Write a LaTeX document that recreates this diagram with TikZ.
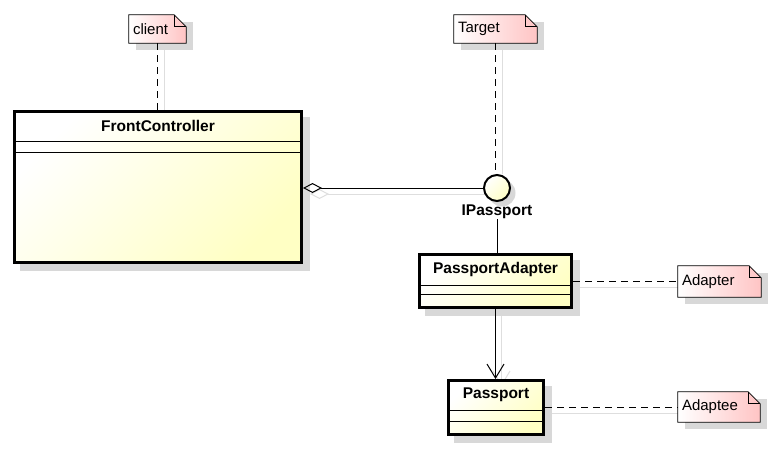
\documentclass[tikz,border=0pt]{standalone}
\usepackage{fontspec}
\setmainfont{Liberation Sans}
\usetikzlibrary{arrows.meta,backgrounds}
\definecolor{clsy}{RGB}{255,255,196}
\definecolor{notep}{RGB}{255,196,196}
\definecolor{shd}{RGB}{216,216,216}
\definecolor{shl}{RGB}{222,222,222}
\begin{document}
\begin{tikzpicture}[x=1pt,y=-1pt,
  cls/.style={draw=black,line width=3pt,top color=white,bottom color=clsy,shading angle=45,inner sep=0pt},
  clsname/.style={font=\fontsize{15.5}{18}\selectfont\bfseries,inner sep=0pt},
  note/.style={inner xsep=4pt,inner ysep=0pt,align=left,font=\fontsize{15}{18}\selectfont},
  conn/.style={line width=1pt},
  dashline/.style={line width=1pt,dash pattern=on 7pt off 5pt},
  shline/.style={shl,line width=1pt},
  comp/.style={line width=1pt}
]
\useasboundingbox (0,0) rectangle (773,448);

% classes
\node[cls,minimum width=287pt,minimum height=151pt] (fc) at (158,187) {};
\node[cls,minimum width=152pt,minimum height=53pt] (pa) at (495.5,281) {};
\node[cls,minimum width=95pt,minimum height=54pt] (pp) at (496,407.5) {};
\node[clsname] (fcname) at (158,126) {FrontController};
\node[clsname] (paname) at (495.5,269) {PassportAdapter};
\node[clsname] (ppname) at (496,395) {Passport};
\draw[comp] (fc.west |- 0,141) -- (fc.east |- 0,141);
\draw[comp] (fc.west |- 0,152) -- (fc.east |- 0,152);
\draw[comp] (pa.west |- 0,285) -- (pa.east |- 0,285);
\draw[comp] (pa.west |- 0,294) -- (pa.east |- 0,294);
\draw[comp] (pp.west |- 0,410) -- (pp.east |- 0,410);
\draw[comp] (pp.west |- 0,421) -- (pp.east |- 0,421);

% interface
\node[circle,draw=black,line width=2pt,minimum size=26pt,inner sep=0pt,
      top color=white,bottom color=clsy,shading angle=45] (ip) at (497,188) {};
\node[clsname] (iplbl) at (497,212) {IPassport};

% notes
\node[note,text width=49pt,minimum height=28pt] (client) at (157.5,29) {client};
\node[note,text width=75pt,minimum height=28pt] (target) at (495.5,29) {Target};
\node[note,text width=75pt,minimum height=31pt] (adapter) at (719.5,281.5) {Adapter};
\node[note,text width=74pt,minimum height=30pt] (adaptee) at (719,407) {Adaptee};

% connectors
\draw[dashline] (client.south) -- (client.south |- fc.north);
\draw[dashline] (target.south) -- (target.south |- ip.north);
\draw[dashline] (pa.east |- adapter.west) -- (adapter.west);
\draw[dashline] (pp.east |- adaptee.west) -- (adaptee.west);
\draw[conn,{Diamond[open,length=19pt,width=10pt]}-] (fc.east |- ip.west) -- (ip.west);
\draw[conn] (iplbl.south) -- (iplbl.south |- pa.north);
\draw[conn,-{Straight Barb[length=14pt,width=17pt]}] (pa.south) -- (pa.south |- pp.north);

\begin{scope}[on background layer]
  % box shadows
  \foreach \n in {fc,pa,pp}{
    \fill[shd] ([shift={(7,7)}]\n.south west) rectangle ([shift={(7,7)}]\n.north east);
  }
  \fill[shd] ([shift={(5,5)}]ip.center) circle (13.5pt);
  % connector shadows
  \draw[shline] ([shift={(7,7)}]client.south) -- ([shift={(7,7)}]client.south |- fc.north);
  \draw[shline] ([shift={(7,7)}]target.south) -- ([shift={(7,0)}]target.south |- ip.north);
  \draw[shline] ([shift={(7,6)}]pa.east |- adapter.west) -- ([shift={(7,6)}]adapter.west);
  \draw[shline] ([shift={(7,6)}]pp.east |- adaptee.west) -- ([shift={(7,6)}]adaptee.west);
  \draw[shline,{Diamond[open,length=19pt,width=10pt]}-] ([shift={(7,6)}]fc.east |- ip.west) -- ([shift={(7,6)}]ip.west);
  \draw[shline,-{Straight Barb[length=14pt,width=17pt]}] ([shift={(6,7)}]pa.south) -- ([shift={(6,7)}]pa.south |- pp.north);
  % notes
  \foreach \n in {client,target,adapter,adaptee}{
    \fill[shd] ([shift={(7,7)}]\n.north west) -- ([shift={(7,7)}]\n.north east) -- ([shift={(7,7)}]\n.south east) -- ([shift={(7,7)}]\n.south west) -- cycle;
    \shade[left color=white,right color=notep,draw=black,line width=0.8pt]
      (\n.north west) -- ([xshift=-12pt]\n.north east) -- ([yshift=-12pt]\n.north east)
      -- (\n.south east) -- (\n.south west) -- cycle;
    \draw[line width=0.8pt] ([xshift=-12pt]\n.north east) -- ([xshift=-12pt,yshift=-12pt]\n.north east) -- ([yshift=-12pt]\n.north east);
  }
\end{scope}
\end{tikzpicture}
\end{document}
